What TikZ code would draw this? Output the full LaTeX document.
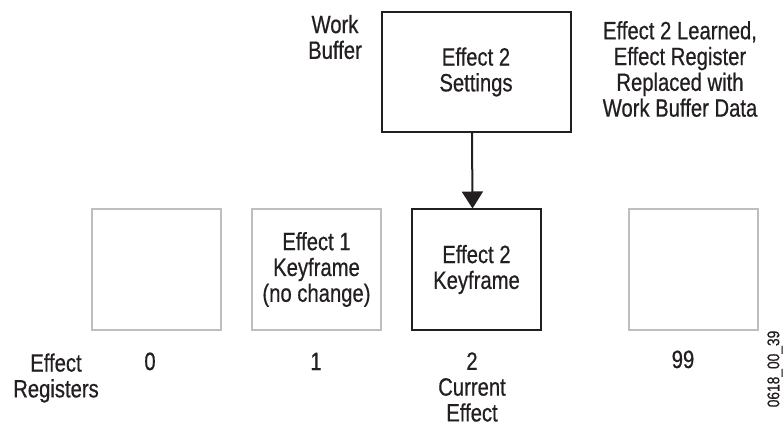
\documentclass[tikz,border=0pt]{standalone}
\usepackage{fontspec}
\setmainfont{Liberation Sans}[FakeStretch=0.81,FakeBold=0.6]
\usetikzlibrary{arrows.meta}
\definecolor{boxgray}{RGB}{190,190,190}
\definecolor{ink}{RGB}{35,31,32}
\begin{document}
\begin{tikzpicture}[x=1pt,y=-1pt,
  txt/.style={font=\fontsize{25}{25.8}\selectfont, text=ink, align=center, inner sep=0pt},
  blackbox/.style={txt, draw=ink, line width=2pt, minimum width=189pt, minimum height=120pt},
  regbox/.style={txt, draw=boxgray, line width=2pt, minimum width=129pt, minimum height=120pt},
  curbox/.style={txt, draw=ink, line width=2pt, minimum width=129pt, minimum height=120pt},
  lbl/.style={txt},
  arr/.style={draw=ink, line width=2pt, -{Triangle[width=21pt,length=17pt]}}
]
\useasboundingbox (0,0) rectangle (783,427);
% work buffer
\node[blackbox] (wb) at (476,72) {Effect 2\\Settings};
\node[lbl] (wblbl) at (335,37) {Work\\Buffer};
\node[lbl] (note) at (680,69) {Effect 2 Learned,\\Effect Register\\Replaced with\\Work Buffer Data};
% registers
\node[regbox] (r0) at (156.5,269.5) {};
\node[regbox] (r1) at (316.5,269.5) {Effect 1\\Keyframe\\(no change)};
\node[curbox] (r2) at (476.5,269.5) {Effect 2\\Keyframe};
\node[regbox] (r99) at (693.5,269.5) {};
% arrow
\draw[arr] ([xshift=-4pt]wb.south) -- ([xshift=-4pt]r2.north);
% labels
\node[lbl] (reglbl) at (56,378) {Effect\\Registers};
\node[lbl, anchor=base] (n0) at (150,370) {0};
\node[lbl, anchor=base] (n1) at (316,370) {1};
\node[lbl] (n2) at (472,387) {2\\Current\\Effect};
\node[lbl, anchor=base] (n99) at (683,368) {99};
\node[txt, font=\fontsize{17}{19}\selectfont, rotate=90] (fig) at (775,369) {0618\_00\_39};
\end{tikzpicture}
\end{document}
